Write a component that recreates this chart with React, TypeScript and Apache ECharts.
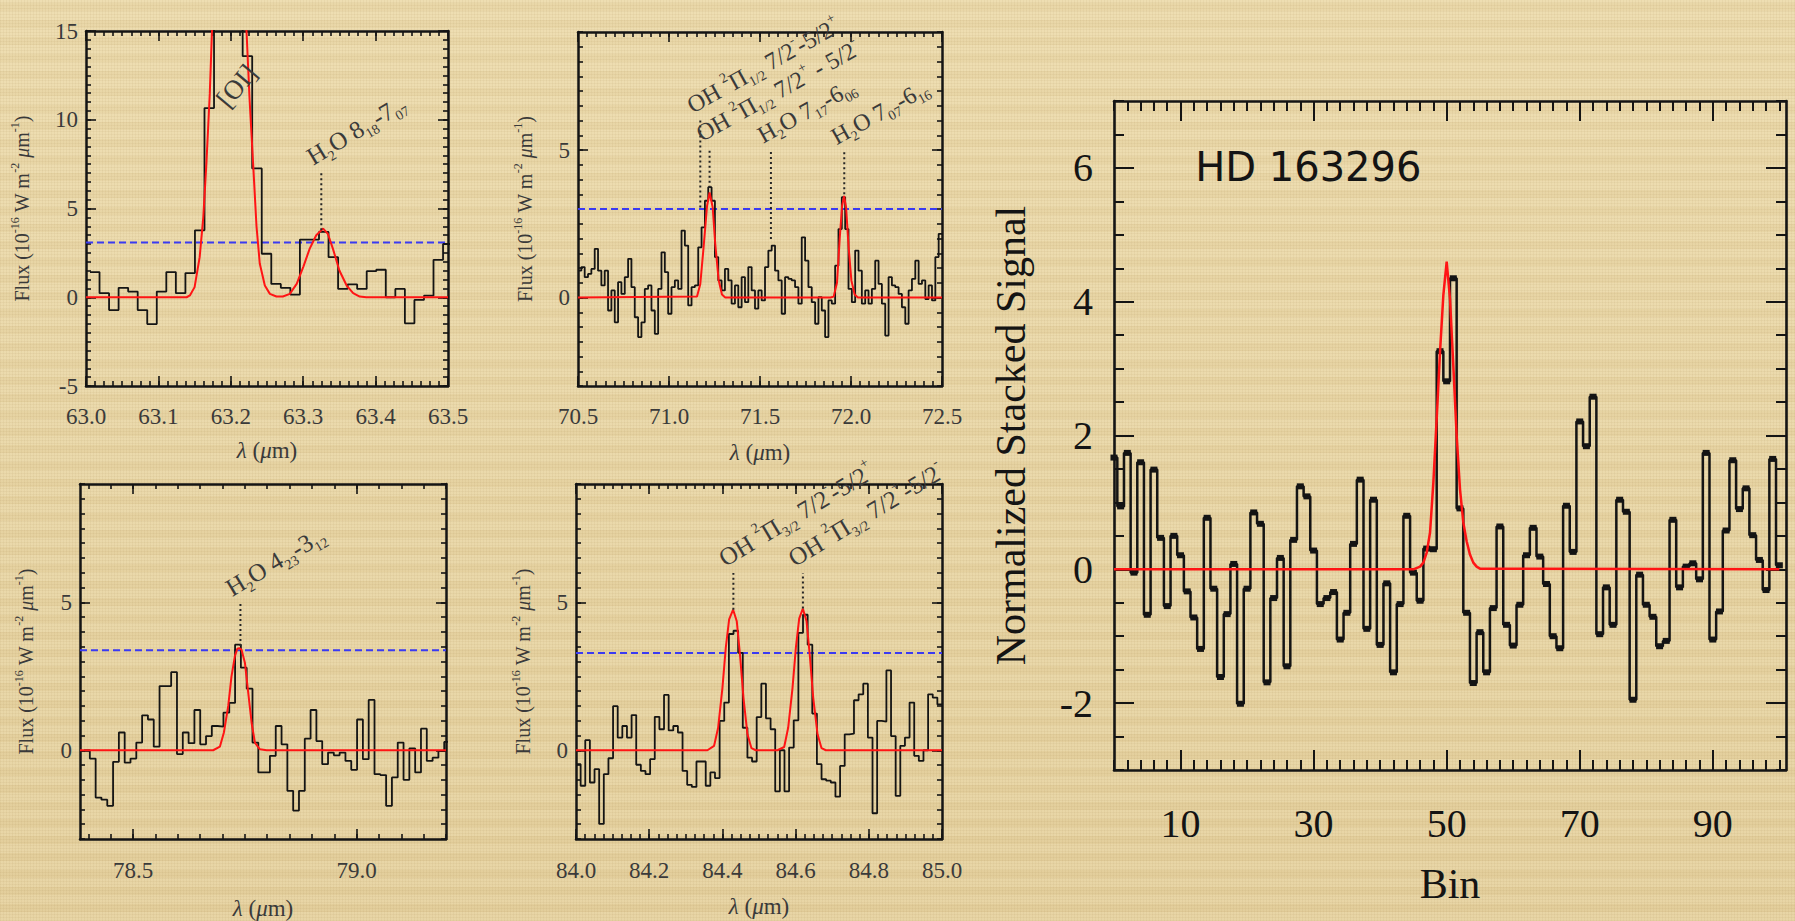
import React, { useEffect, useRef } from 'react';
import * as echarts from 'echarts';

/* Flux densities are in 1e-16 W m^-2 µm^-1, wavelengths in µm. */

// 63.0–63.5 µm window: [O I] and H2O 8_18–7_07
const oiStart = 63.0055;
const oiBin = 0.01318;
const oiFlux = [1.42, 0.23, -0.72, 0.53, 0.32, -0.72, -1.51, 0.32, 1.42, 0.23, 1.36, 3.77, 10.66, 22.0, 26.0, 21.0, 13.58, 7.26, 2.45, 0.75, 0.53, 0.15, 3.25, 3.25, 3.68, 2.26, 0.47, 0.72, 0.47, 1.47, 1.55, 0.0, 0.47, -1.47, -0.15, 0.09, 2.11, 3.0];
const oiFitWave = [63.0, 63.139, 63.1435, 63.15, 63.157, 63.162, 63.1665, 63.171, 63.174, 63.185, 63.198, 63.211, 63.2217, 63.226, 63.231, 63.2355, 63.24, 63.247, 63.254, 63.263, 63.272, 63.2815, 63.291, 63.3, 63.309, 63.318, 63.3275, 63.334, 63.341, 63.35, 63.36, 63.369, 63.378, 63.387, 63.5];
const oiFitFlux = [0, 0, 0.1, 0.57, 2.26, 4.5, 7.7, 11.5, 15.0, 31, 40, 31, 15, 11.1, 7.4, 4.0, 1.9, 0.66, 0.19, 0.04, 0.04, 0.19, 0.75, 1.7, 2.74, 3.49, 3.87, 3.58, 2.74, 1.51, 0.66, 0.23, 0.04, 0, 0];
const oiNoise = 3.08;
const oiLineWave = [63.325];
const oiLineBase = [3.77];
const oiLineTop = [7.08];
const oiLineText = ['H{d|2}O 8{d|18}-7{d|07}'];

// 70.5–72.5 µm window: OH 2Π1/2 doublet and two H2O lines
const ohStart = 70.5;
const ohBin = 2 / 109;
const ohFlux = [
  0.91, 1.03, 0.69, 0.8, 0.97, 1.65, 0.91, 0.41, 0.91, -0.44,
  0.24, -0.84, 0.52, 0.12, 0.69, 1.31, 0.35, -0.67, -1.34, -0.84,
  0.29, 0.41, -0.44, -1.23, 0.29, 1.53, 0.86, -0.55, 0.35, 0.58,
  0.29, 2.27, 1.76, -0.27, 0.35, 0.41, 1.7, 2.38, 3.28, 3.74,
  3.28, 1.37, 0.58, 0.24, 0.97, 0.58, -0.21, 0.41, -0.33, 0.69,
  -0.16, 1.03, 0.24, -0.38, 0.24, -0.1, 1.03, 1.59, 1.76, 0.91,
  0.58, -0.55, 0.69, 0.63, 0.58, 0.35, -0.21, 2.04, 1.25, 0.35,
  -0.16, -0.89, 0.01, -0.44, -1.34, -0.1, -0.21, 1.08, 2.32, 3.4,
  2.32, 0.29, -0.16, 1.59, 0.91, -0.21, 0.24, -0.21, 0.29, 1.25,
  0.46, -0.21, -1.29, 0.69, 0.41, 0.35, 0.12, -0.33, -0.89, 0.24,
  0.63, 1.25, 0.46, 0.58, -0.05, 0.41, -0.1, 1.37, 2.16,
];
const ohFitWave = [70.5, 71.154, 71.172, 71.19, 71.209, 71.223, 71.24, 71.254, 71.273, 71.291, 71.309, 71.887, 71.9046, 71.923, 71.938, 71.951, 71.962, 71.973, 71.987, 72.002, 72.02, 72.038, 72.5];
const ohFitFlux = [0, 0.03, 0.46, 1.7, 3.1, 3.56, 3.06, 1.82, 0.58, 0.1, 0, 0, 0.03, 0.5, 2.0, 3.1, 3.44, 3.06, 1.7, 0.58, 0.1, 0, 0];
const ohNoise = 3.0;
const ohLineWave = [71.172, 71.223, 71.56, 71.963];
const ohLineBase = [3.05, 3.72, 1.98, 3.5];
const ohLineTop = [6.04, 5.08, 5.02, 4.97];
const ohLineText = [
  'OH {u|2}Π{d|1/2} 7/2{u|-}-5/2{u|+}',
  'OH {u|2}Π{d|1/2} 7/2{u|+} - 5/2{u|-}',
  'H{d|2}O 7{d|17}-6{d|06}',
  'H{d|2}O 7{d|07}-6{d|16}',
];

// 78.38–79.2 µm window: H2O 4_23–3_12
const w78Start = 78.39;
const w78Bin = 0.013;
const w78Flux = [
  0, -0.28, -1.6, -1.67, -1.88, -0.39, 0.6, -0.42, -0.28, 0.26,
  1.18, 1.04, 0.12, 2.17, 2.17, 2.64, -0.13, 0.6, 0.24, 1.36,
  0.2, 0.48, 0.82, 0.8, 1.27, 1.6, 3.57, 2.79, 2.08, 0.26,
  -0.75, -0.75, -0.19, 0.82, 0.2, -1.37, -2.04, -1.37, 0.39, 1.36,
  0.31, -0.47, -0.08, -0.17, -0.08, -0.36, -0.66, 1.04, -0.3, 1.7,
  -0.81, -0.84, -1.88, -0.92, 0.26, -1.0, 0.06, -0.75, 0.73, -0.36,
  -0.25, -0.02, 0.28,
];
const w78FitWave = [78.381, 78.679, 78.694, 78.703, 78.7127, 78.72, 78.7276, 78.733, 78.7373, 78.7425, 78.75, 78.7575, 78.765, 78.7724, 78.7836, 78.7985, 79.2];
const w78FitFlux = [0, 0, 0.12, 0.6, 1.5, 2.5, 3.18, 3.43, 3.45, 3.4, 2.96, 1.94, 0.93, 0.26, 0.03, 0, 0];
const w78Noise = 3.38;
const w78LineWave = [78.74];
const w78LineBase = [3.52];
const w78LineTop = [4.98];
const w78LineText = ['H{d|2}O 4{d|23}-3{d|12}'];

// 84.0–85.0 µm window: OH 2Π3/2 doublet
const w84Start = 84.0;
const w84Bin = 1 / 79;
const w84Flux = [
  -0.47, -1.2, 0.34, -1.09, -0.64, -2.49, -0.81, -0.27, 1.49, 0.43,
  0.82, 0.43, 1.19, -0.49, -0.7, -0.81, -0.3, 1.13, 0.71, 1.87,
  0.67, 0.82, 0.6, -0.7, -1.17, -1.24, -0.38, -0.38, -1.2, -0.75,
  -0.94, 0.99, 1.61, 3.93, 4.04, 3.29, 0.76, -0.25, -0.38, 1.12,
  2.25, 1.08, 0.71, -1.39, 0, -1.39, 0.09, 1.01, 3.97, 4.58,
  3.57, 1.24, -0.47, -0.98, -1.03, -1.09, -1.57, -0.53, 0.54, 0.56,
  1.69, 1.89, 2.25, 0.43, -2.13, 0.99, 0.97, 2.7, 0.48, -1.54,
  0.15, 0.43, 1.61, -0.19, -0.36, 0, 1.89, 1.78, 1.55,
];
const w84FitWave = [84.0, 84.3591, 84.3773, 84.3883, 84.4001, 84.4092, 84.4184, 84.4293, 84.4393, 84.4484, 84.4575, 84.4685, 84.4794, 84.4913, 84.5505, 84.5688, 84.5797, 84.5916, 84.6007, 84.6098, 84.6198, 84.6299, 84.639, 84.6481, 84.66, 84.6709, 84.6827, 85.0];
const w84FitFlux = [0, 0, 0.15, 0.76, 2.11, 3.46, 4.42, 4.75, 4.36, 3.18, 1.78, 0.54, 0.07, 0, 0, 0.11, 0.76, 2.11, 3.46, 4.45, 4.79, 4.36, 3.18, 1.78, 0.54, 0.07, 0, 0];
const w84Noise = 3.29;
const w84LineWave = [84.43, 84.62];
const w84LineBase = [4.75, 4.79];
const w84LineTop = [5.99, 5.99];
const w84LineText = [
  'OH {u|2}Π{d|3/2} 7/2{u|-}-5/2{u|+}',
  'OH {u|2}Π{d|3/2} 7/2{u|+}-5/2{u|-}',
];

// Stacked, normalized signal per bin (bins 0–100) and its Gaussian fit
const binSignal = [
  1.67, 0.94, 1.74, -0.05, 1.6, -0.68, 1.49, 0.47, -0.55, 0.5,
  0.21, -0.33, -0.72, -1.19, 0.77, -0.29, -1.61, -0.67, 0.08, -2.01,
  -0.29, 0.85, 0.68, -1.69, -0.43, 0.17, -1.45, 0.44, 1.24, 1.09,
  0.28, -0.52, -0.43, -0.34, -1.05, -0.65, 0.38, 1.34, -0.89, 1.04,
  -1.13, -0.21, -1.54, -0.52, 0.8, -0.05, -0.47, 0.31, 0.3, 3.26,
  2.81, 4.35, 0.91, -0.65, -1.7, -0.94, -1.54, -0.58, 0.64, -0.83,
  -1.14, -0.53, 0.21, 0.62, 0.19, -0.22, -1.0, -1.18, 0.95, 0.26,
  2.21, 1.84, 2.58, -0.97, -0.27, -0.83, 1.04, 0.86, -1.95, -0.08,
  -0.53, -0.71, -1.15, -1.07, 0.74, -0.27, 0.04, 0.09, -0.15, 1.74,
  -1.05, -0.63, 0.58, 1.63, 0.9, 1.21, 0.51, 0.14, -0.31, 1.65,
  0.06,
];
const binFitX = [0, 45, 46, 46.5, 47, 47.5, 48, 48.5, 49, 49.5, 50, 50.5, 51, 51.5, 52, 52.5, 53, 53.5, 54, 54.5, 55, 100];
const binFitY = [0, 0, 0.04, 0.1, 0.25, 0.55, 1.3, 2.25, 3.25, 4.1, 4.6, 4.04, 3.04, 2.0, 1.2, 0.7, 0.42, 0.22, 0.1, 0.04, 0.01, 0];
const binTickLabels = [10, 30, 50, 70, 90];
const targetName = 'HD 163296';

/* ---------- styling ---------- */
const SERIF = "'Liberation Serif', 'Times New Roman', serif";
const SANS = "'DejaVu Sans', 'Noto Sans', sans-serif";
const INK = '#141414';
const GREY = '#3a3a3a';
const RED = '#ff1414';
const BLUE = '#3a3af2';

function seq(a: number, b: number, step: number): number[] {
  const n = Math.round((b - a) / step);
  const out: number[] = [];
  for (let i = 0; i <= n; i++) out.push(+(a + i * step).toFixed(6));
  return out;
}

function richFor(size: number, color: string) {
  const small = Math.round(size * 0.58);
  return {
    d: { fontFamily: SERIF, fontSize: small, lineHeight: small, color, fill: color, verticalAlign: 'bottom', textVerticalAlign: 'bottom' },
    u: { fontFamily: SERIF, fontSize: small, lineHeight: small, color, fill: color, verticalAlign: 'top', textVerticalAlign: 'top' },
    i: { fontFamily: SERIF, fontSize: size, color, fill: color, fontStyle: 'italic' },
  };
}

const fmt1 = (v: number) => v.toFixed(1);
const fmt0 = (v: number) => String(Math.round(v));

function axisSet(dim: 'x' | 'y', gridIndex: number, s: any, look: any) {
  const sides = dim === 'x' ? ['bottom', 'top'] : ['left', 'right'];
  const common = {
    type: 'value', gridIndex, min: s.min, max: s.max,
    splitLine: { show: false }, axisPointer: { show: false }, silent: true,
  };
  const line = { show: true, onZero: false, lineStyle: { color: INK, width: look.axisW } };
  const noLine = { show: false, onZero: false };
  const tick = (len: number, vals: number[]) => ({
    show: true, inside: true, length: len, customValues: vals,
    lineStyle: { color: INK, width: look.tickW },
  });
  const nameStyle = {
    fontFamily: SERIF, fontSize: s.nameSize, color: look.text,
    lineHeight: Math.round(s.nameSize * 1.3),
    rich: richFor(s.nameSize, look.text),
  };
  const hasLabels = s.labels.length > 0;
  return [
    {
      ...common, position: sides[0], axisLine: line,
      axisTick: tick(look.majorLen, s.major),
      axisLabel: hasLabels
        ? {
          show: true, customValues: s.labels, formatter: s.fmt, margin: s.margin,
          color: look.text, fontFamily: SERIF, fontSize: look.labelSize,
        }
        : { show: false },
      name: s.name, nameLocation: 'middle', nameGap: s.nameGap, nameTextStyle: nameStyle,
    },
    { ...common, position: sides[0], axisLine: noLine, axisTick: tick(look.minorLen, s.minor), axisLabel: { show: false } },
    { ...common, position: sides[1], axisLine: line, axisTick: tick(look.majorLen, s.major), axisLabel: { show: false } },
    { ...common, position: sides[1], axisLine: noLine, axisTick: tick(look.minorLen, s.minor), axisLabel: { show: false } },
  ];
}

const smallLook = { axisW: 2.5, tickW: 1.6, majorLen: 10, minorLen: 5, labelSize: 23, text: GREY };
const bigLook = { axisW: 2.6, tickW: 2, majorLen: 20, minorLen: 10, labelSize: 40, text: INK };

const fluxName = 'Flux (10{u|-16} W m{u|-2} {i|μ}m{u|-1})';
const waveName = '{i|λ} ({i|μ}m)';

function buildOption() {
  const grid: any[] = [];
  const xAxis: any[] = [];
  const yAxis: any[] = [];
  const series: any[] = [];
  const notes: any[] = [];

  function addPanel(box: any, xs: any, ys: any, look: any) {
    const gi = grid.length;
    grid.push({ ...box, containLabel: false, outerBoundsMode: 'none', show: false });
    const xi = xAxis.length;
    const yi = yAxis.length;
    xAxis.push(...axisSet('x', gi, xs, look));
    yAxis.push(...axisSet('y', gi, ys, look));
    return { xi, yi };
  }

  function addSpectrum(ax: any, xmin: number, xmax: number, start: number, bin: number, flux: number[],
    fitWave: number[], fitFlux: number[], noise: number,
    lineWave: number[], lineBase: number[], lineTop: number[], lineText: string[], angle: number, size: number) {
    const base = { type: 'line', xAxisIndex: ax.xi, yAxisIndex: ax.yi, symbol: 'none', silent: true, emphasis: { disabled: true } };
    series.push({ ...base, data: [[xmin, noise], [xmax, noise]], lineStyle: { color: BLUE, width: 2, type: [7, 4] }, z: 2 });
    const steps = flux.map((v, i) => [start + i * bin, v]);
    steps.push([start + flux.length * bin, flux[flux.length - 1]]);
    series.push({ ...base, step: 'end', data: steps, lineStyle: { color: INK, width: 1.8 }, z: 3 });
    series.push({ ...base, data: fitWave.map((w, i) => [w, fitFlux[i]]), lineStyle: { color: RED, width: 2 }, z: 4 });
    lineWave.forEach((w, i) => {
      series.push({ ...base, data: [[w, lineBase[i]], [w, lineTop[i]]], lineStyle: { color: '#262626', width: 2, type: [2, 3] }, z: 5 });
      notes.push({ xi: ax.xi, yi: ax.yi, x: w, y: lineTop[i], text: lineText[i], angle, dx: -4, dy: 1, align: 'left', valign: 'bottom', size, color: GREY, family: SERIF });
    });
  }

  const yFlux = (min: number, max: number, nameGap: number) => ({
    min, max, major: seq(min, max, 0.5).filter((v) => v % 5 === 0), minor: seq(min, max, 0.5),
    labels: seq(min, max, 0.5).filter((v) => v % 5 === 0), fmt: fmt0,
    name: fluxName, nameGap, nameSize: 20, margin: 8,
  });

  // top-left: 63.0–63.5
  const a1 = addPanel({ left: 86, top: 31, width: 362, height: 355 },
    { min: 63.0, max: 63.5, major: seq(63.0, 63.5, 0.1), minor: seq(63.0, 63.5, 0.0125), labels: seq(63.0, 63.5, 0.1), fmt: fmt1, name: waveName, nameGap: 49, nameSize: 23, margin: 19 },
    yFlux(-5, 15, 51), smallLook);
  addSpectrum(a1, 63.0, 63.5, oiStart, oiBin, oiFlux, oiFitWave, oiFitFlux, oiNoise, oiLineWave, oiLineBase, oiLineTop, oiLineText, 31, 25);
  notes.push({ xi: a1.xi, yi: a1.yi, x: 63.208, y: 11.9, text: '[OI]', angle: 50, dx: 0, dy: 0, align: 'center', valign: 'middle', size: 27, color: GREY, family: SERIF });

  // top-middle: 70.5–72.5
  const a2 = addPanel({ left: 578, top: 32, width: 364, height: 354 },
    { min: 70.5, max: 72.5, major: seq(70.5, 72.5, 0.5), minor: seq(70.5, 72.5, 0.05), labels: seq(70.5, 72.5, 0.5), fmt: fmt1, name: waveName, nameGap: 51, nameSize: 23, margin: 19 },
    yFlux(-3, 9, 40), smallLook);
  addSpectrum(a2, 70.5, 72.5, ohStart, ohBin, ohFlux, ohFitWave, ohFitFlux, ohNoise, ohLineWave, ohLineBase, ohLineTop, ohLineText, 29, 24);

  // bottom-left: 78.38–79.2
  const a3 = addPanel({ left: 80, top: 484, width: 366, height: 355 },
    { min: 78.381, max: 79.2, major: [78.5, 79.0], minor: seq(78.4, 79.2, 0.05), labels: [78.5, 79.0], fmt: fmt1, name: waveName, nameGap: 54, nameSize: 23, margin: 20 },
    yFlux(-3, 9, 41), smallLook);
  addSpectrum(a3, 78.381, 79.2, w78Start, w78Bin, w78Flux, w78FitWave, w78FitFlux, w78Noise, w78LineWave, w78LineBase, w78LineTop, w78LineText, 31, 25);

  // bottom-middle: 84.0–85.0
  const a4 = addPanel({ left: 576, top: 484, width: 366, height: 355 },
    { min: 84.0, max: 85.0, major: seq(84.0, 85.0, 0.2), minor: seq(84.0, 85.0, 0.025), labels: seq(84.0, 85.0, 0.2), fmt: fmt1, name: waveName, nameGap: 52, nameSize: 23, margin: 20 },
    yFlux(-3, 9, 40), smallLook);
  addSpectrum(a4, 84.0, 85.0, w84Start, w84Bin, w84Flux, w84FitWave, w84FitFlux, w84Noise, w84LineWave, w84LineBase, w84LineTop, w84LineText, 31, 25);

  // right: stacked signal versus bin (its x tick labels are placed as text notes)
  const a5 = addPanel({ left: 1114, top: 101, width: 672, height: 669 },
    { min: 0, max: 101, major: [10, 30, 50, 70, 90], minor: seq(0, 100, 2), labels: [], fmt: fmt0, name: 'Bin', nameGap: 86, nameSize: 42, margin: 33 },
    { min: -3, max: 7, major: [-2, 0, 2, 4, 6], minor: seq(-3, 7, 0.5), labels: [-2, 0, 2, 4, 6], fmt: fmt0, name: 'Normalized Stacked Signal', nameGap: 76, nameSize: 42, margin: 21 },
    bigLook);
  const rb = { type: 'line', xAxisIndex: a5.xi, yAxisIndex: a5.yi, silent: true, emphasis: { disabled: true } };
  series.push({
    ...rb, step: 'middle', data: binSignal.map((v, i) => [i, v]),
    symbol: 'rect', symbolSize: [7, 6], showSymbol: true, showAllSymbol: true,
    itemStyle: { color: INK }, lineStyle: { color: INK, width: 2.5 }, z: 3,
  });
  series.push({ ...rb, symbol: 'none', data: binFitX.map((x, i) => [x, binFitY[i]]), lineStyle: { color: RED, width: 2.5 }, z: 4 });
  notes.push({ xi: a5.xi, yi: a5.yi, x: 12.2, y: 6.02, text: targetName, angle: 0, dx: 0, dy: 0, align: 'left', valign: 'middle', size: 40, color: INK, family: SANS });
  binTickLabels.forEach((b) => {
    notes.push({ xi: a5.xi, yi: a5.yi, x: b, y: -3, text: String(b), angle: 0, dx: 0, dy: 53, align: 'center', valign: 'middle', size: 40, color: INK, family: SERIF });
  });

  const option = {
    animation: false,
    backgroundColor: 'transparent',
    tooltip: { show: false },
    grid, xAxis, yAxis, series,
  };
  return { option, notes };
}

export default function App() {
  const ref = useRef<HTMLDivElement>(null);

  useEffect(() => {
    const el = ref.current;
    if (!el) return;
    const chart = echarts.init(el, null, { renderer: 'svg' });
    const { option, notes } = buildOption();
    chart.setOption(option as any);

    const graphic = notes.map((n: any) => {
      const p = chart.convertToPixel({ xAxisIndex: n.xi, yAxisIndex: n.yi } as any, [n.x, n.y]) as number[];
      return {
        type: 'text',
        x: p[0] + n.dx,
        y: p[1] + n.dy,
        rotation: (n.angle * Math.PI) / 180,
        silent: true,
        z: 20,
        style: {
          text: n.text,
          fontFamily: n.family,
          fontSize: n.size,
          fill: n.color,
          lineHeight: Math.round(n.size * 1.3),
          textAlign: n.align,
          align: n.align,
          textVerticalAlign: n.valign,
          verticalAlign: n.valign,
          rich: richFor(n.size, n.color),
        },
      };
    });
    chart.setOption({ graphic } as any);

    return () => chart.dispose();
  }, []);

  return (
    <div
      style={{
        position: 'fixed',
        left: 0,
        top: 0,
        width: 1795,
        height: 921,
        overflow: 'hidden',
        backgroundColor: '#e8d5a4',
        backgroundImage: [
          'repeating-linear-gradient(90deg, rgba(140,105,45,0.06) 0px, rgba(140,105,45,0.06) 1px, transparent 1px, transparent 3px)',
          'repeating-linear-gradient(0deg, rgba(140,105,45,0.06) 0px, rgba(140,105,45,0.06) 1px, transparent 1px, transparent 3px)',
          'repeating-linear-gradient(0deg, rgba(255,248,222,0.10) 0px, rgba(255,248,222,0.10) 9px, rgba(160,125,60,0.035) 9px, rgba(160,125,60,0.035) 17px)',
          'linear-gradient(180deg, rgba(255,246,214,0.18), rgba(205,175,115,0.10))',
        ].join(','),
      }}
    >
      <div ref={ref} style={{ width: 1795, height: 921 }} />
    </div>
  );
}
